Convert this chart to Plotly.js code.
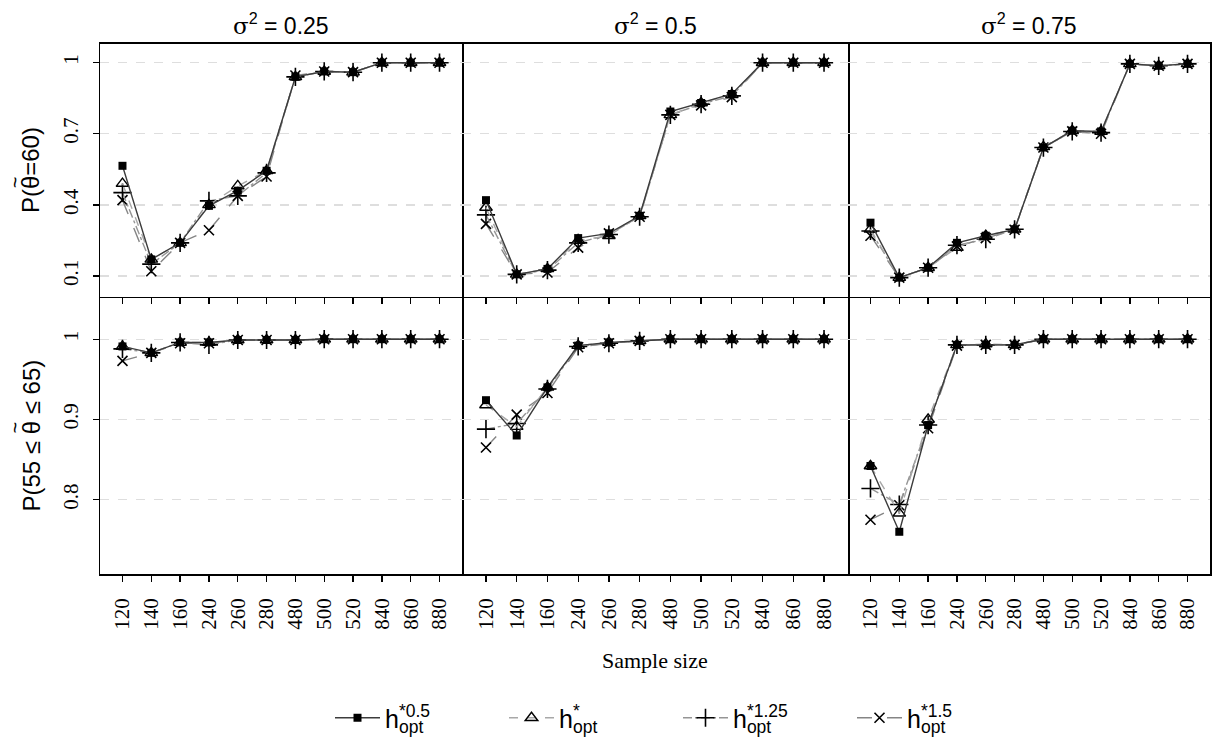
<!DOCTYPE html>
<html>
<head>
<meta charset="utf-8">
<script src="https://cdn.plot.ly/plotly-3.0.1.min.js"></script>
<style>html,body{margin:0;padding:0;background:#fff;}#chart{width:1219px;height:744px;}</style>
</head>
<body>
<div id="chart"></div>
<script>
// ---------- data ----------
const sampleSizes = ['120','140','160','240','260','280','480','500','520','840','860','880'];
const seriesSup = ['*0.5', '*', '*1.25', '*1.5'];
const seriesSub = 'opt';
const panelTitles = ['σ<sup>2</sup> = 0.25', 'σ<sup>2</sup> = 0.5', 'σ<sup>2</sup> = 0.75'];
const rowTitlesPre = ['P(', 'P(55 ≤ '];
const rowTitlesPost = ['=60)', ' ≤ 65)'];

// Top row: P(theta~ = 60)
const eq_s025_h05  = [0.565, 0.170, 0.240, 0.396, 0.460, 0.544, 0.940, 0.963, 0.960, 1.000, 1.000, 1.000];
const eq_s025_hopt = [0.490, 0.170, 0.240, 0.400, 0.480, 0.544, 0.940, 0.963, 0.960, 1.000, 1.000, 1.000];
const eq_s025_h125 = [0.452, 0.150, 0.240, 0.417, 0.438, 0.535, 0.940, 0.963, 0.960, 1.000, 1.000, 1.000];
const eq_s025_h15  = [0.420, 0.120, 0.240, 0.293, 0.438, 0.520, 0.946, 0.963, 0.960, 1.000, 1.000, 1.000];

const eq_s05_h05  = [0.420, 0.107, 0.130, 0.260, 0.280, 0.354, 0.794, 0.830, 0.868, 1.000, 1.000, 1.000];
const eq_s05_hopt = [0.389, 0.107, 0.130, 0.250, 0.270, 0.354, 0.780, 0.830, 0.865, 1.000, 1.000, 1.000];
const eq_s05_h125 = [0.358, 0.107, 0.125, 0.240, 0.275, 0.350, 0.780, 0.825, 0.860, 1.000, 1.000, 1.000];
const eq_s05_h15  = [0.320, 0.107, 0.115, 0.220, 0.280, 0.350, 0.780, 0.820, 0.855, 1.000, 1.000, 1.000];

const eq_s075_h05  = [0.325, 0.093, 0.135, 0.240, 0.270, 0.297, 0.642, 0.713, 0.710, 0.995, 0.987, 0.995];
const eq_s075_hopt = [0.297, 0.093, 0.135, 0.220, 0.270, 0.297, 0.645, 0.713, 0.710, 0.995, 0.987, 0.995];
const eq_s075_h125 = [0.290, 0.093, 0.135, 0.230, 0.255, 0.297, 0.642, 0.710, 0.705, 0.995, 0.987, 0.995];
const eq_s075_h15  = [0.270, 0.093, 0.135, 0.225, 0.260, 0.295, 0.642, 0.710, 0.700, 0.995, 0.987, 0.995];

// Bottom row: P(55 <= theta~ <= 65)
const in_s025_h05  = [0.991, 0.983, 0.996, 0.996, 0.999, 0.999, 0.999, 1.000, 1.000, 1.000, 1.000, 1.000];
const in_s025_hopt = [0.991, 0.983, 0.996, 0.996, 0.999, 0.999, 0.999, 1.000, 1.000, 1.000, 1.000, 1.000];
const in_s025_h125 = [0.988, 0.983, 0.996, 0.993, 0.999, 0.999, 0.999, 1.000, 1.000, 1.000, 1.000, 1.000];
const in_s025_h15  = [0.973, 0.983, 0.995, 0.995, 0.999, 0.999, 0.999, 1.000, 1.000, 1.000, 1.000, 1.000];

const in_s05_h05  = [0.924, 0.880, 0.940, 0.992, 0.996, 0.998, 1.000, 1.000, 1.000, 1.000, 1.000, 1.000];
const in_s05_hopt = [0.918, 0.891, 0.940, 0.992, 0.996, 0.998, 1.000, 1.000, 1.000, 1.000, 1.000, 1.000];
const in_s05_h125 = [0.888, 0.895, 0.938, 0.991, 0.995, 0.998, 1.000, 1.000, 1.000, 1.000, 1.000, 1.000];
const in_s05_h15  = [0.865, 0.906, 0.933, 0.990, 0.995, 0.998, 1.000, 1.000, 1.000, 1.000, 1.000, 1.000];

const in_s075_h05  = [0.842, 0.760, 0.893, 0.993, 0.993, 0.993, 1.000, 1.000, 1.000, 1.000, 1.000, 1.000];
const in_s075_hopt = [0.842, 0.783, 0.900, 0.993, 0.994, 0.993, 1.000, 1.000, 1.000, 1.000, 1.000, 1.000];
const in_s075_h125 = [0.814, 0.794, 0.893, 0.993, 0.993, 0.993, 1.000, 1.000, 1.000, 1.000, 1.000, 1.000];
const in_s075_h15  = [0.775, 0.793, 0.889, 0.992, 0.993, 0.993, 1.000, 1.000, 1.000, 1.000, 1.000, 1.000];

const topTickVals = [0.1, 0.4, 0.7, 1];
const topTickText = ['0.1', '0.4', '0.7', '1'];
const botTickVals = [0.8, 0.9, 1];
const botTickText = ['0.8', '0.9', '1'];

const panels = [
  [eq_s025_h05, eq_s025_hopt, eq_s025_h125, eq_s025_h15],
  [eq_s05_h05,  eq_s05_hopt,  eq_s05_h125,  eq_s05_h15],
  [eq_s075_h05, eq_s075_hopt, eq_s075_h125, eq_s075_h15],
  [in_s025_h05, in_s025_hopt, in_s025_h125, in_s025_h15],
  [in_s05_h05,  in_s05_hopt,  in_s05_h125,  in_s05_h15],
  [in_s075_h05, in_s075_hopt, in_s075_h125, in_s075_h15]
];

// ---------- styles ----------
const SERIF = 'Liberation Serif, Times New Roman, serif';
const SANS = 'Liberation Sans, Arial, sans-serif';
const GREEK = 'DejaVu Serif';
const LEG_SIZE = 25;
const ROW_SIZE = 24;
const styles = [
  {line: {color: '#3c3c3c', width: 1.4, dash: 'solid'},   marker: {symbol: 'square', size: 8, color: '#000'}},
  {line: {color: '#a8a8a8', width: 1.4, dash: 'dash'},    marker: {symbol: 'triangle-up-open', size: 11, color: '#000', line: {width: 1.4, color: '#000'}}},
  {line: {color: '#959595', width: 1.4, dash: 'dashdot'}, marker: {symbol: 'cross-thin-open', size: 13, color: '#000', line: {width: 1.6, color: '#000'}}},
  {line: {color: '#858585', width: 1.4, dash: 'longdash'},marker: {symbol: 'x-thin-open', size: 10, color: '#000', line: {width: 1.6, color: '#000'}}}
];
const drawOrder = [3, 2, 1, 0];

// legend label: superscript stacked over subscript (pull subscript back under superscript)
const charW = {'*': 0.389, '0': 0.556, '1': 0.556, '2': 0.556, '5': 0.556, '.': 0.278};
function legendName(sup) {
  const supSize = LEG_SIZE * 0.7;
  let w = 0;
  for (const ch of sup) w += (charW[ch] || 0.556) * supSize;
  const head = sup.slice(0, -1), last = sup.slice(-1);
  return 'h<sup>' + head + '<span style="letter-spacing:-' + w.toFixed(1) + 'px">' + last + '</span></sup><sub>' + seriesSub + '</sub>';
}
// theta with a tilde placed above it
function thetaTilde() {
  const thetaW = 0.556 * ROW_SIZE;      // width of θ in Liberation Sans
  const tSize = 20;
  const tildeW = 0.584 * tSize;         // width of ~ at tSize
  const off = (thetaW - tildeW) / 2;
  const ls1 = off - thetaW;
  const ls2 = thetaW - off - tildeW;
  return '<span style="letter-spacing:' + ls1.toFixed(2) + 'px">θ</span><sup><sup><span style="font-size:' + tSize +
         'px;letter-spacing:' + ls2.toFixed(2) + 'px">~</span></sup></sup>';
}

const W = 1219, H = 744;
const colPx = [[100, 462], [462, 848], [848, 1210]];
const rowPx = [[43.5, 296.7], [296.7, 574.3]];
const yRanges = [[0.0127, 1.081], [0.707, 1.053]];

const traces = [];
const layout = {
  width: W, height: H,
  margin: {l: 0, r: 0, t: 0, b: 0},
  paper_bgcolor: '#fff', plot_bgcolor: '#fff',
  font: {family: SANS, color: '#000'},
  showlegend: true,
  legend: {orientation: 'h', x: 330 / W, xanchor: 'left', y: (H - 718) / H, yanchor: 'middle',
           font: {family: SANS, size: LEG_SIZE, color: '#000'}, itemwidth: 45,
           entrywidth: 114, entrywidthmode: 'pixels', bgcolor: 'rgba(0,0,0,0)'},
  annotations: [],
  shapes: []
};

for (let p = 0; p < 6; p++) {
  const r = Math.floor(p / 3), c = p % 3;
  const n = p + 1;
  const xa = 'x' + (n === 1 ? '' : n), ya = 'y' + (n === 1 ? '' : n);
  drawOrder.forEach(s => {
    traces.push({
      type: 'scatter', mode: 'lines+markers',
      x: sampleSizes, y: panels[p][s],
      xaxis: xa, yaxis: ya,
      name: legendName(seriesSup[s]), legendgroup: 'g' + s, legendrank: s + 1,
      showlegend: p === 0,
      line: styles[s].line, marker: styles[s].marker,
      cliponaxis: false
    });
  });
  const xd = [colPx[c][0] / W, colPx[c][1] / W];
  const yd = [(H - rowPx[r][1]) / H, (H - rowPx[r][0]) / H];
  layout['xaxis' + (n === 1 ? '' : n)] = {
    type: 'category', categoryorder: 'array', categoryarray: sampleSizes,
    range: [-0.78, 11.78], domain: xd, anchor: ya,
    showline: true, mirror: r === 0, linecolor: '#000', linewidth: 1.5,
    ticks: 'outside', ticklen: 6, tickwidth: 1.3, tickcolor: '#000',
    showticklabels: r === 1, tickangle: -90,
    tickfont: {family: SERIF, size: 21, color: '#000'},
    ticklabelstandoff: 8,
    showgrid: false, zeroline: false, fixedrange: true
  };
  layout['yaxis' + (n === 1 ? '' : n)] = {
    range: yRanges[r], domain: yd, anchor: xa,
    side: c === 0 ? 'left' : 'right',
    tickmode: 'array',
    tickvals: r === 0 ? topTickVals : botTickVals,
    ticktext: r === 0 ? topTickText : botTickText,
    showline: true, mirror: c === 0, linecolor: '#000', linewidth: 1.5,
    ticks: c === 0 ? 'outside' : '', ticklen: 6, tickwidth: 1.3, tickcolor: '#000',
    showticklabels: c === 0, tickangle: -90,
    tickfont: {family: SERIF, size: 21, color: '#000'},
    ticklabelstandoff: 6,
    showgrid: true, gridcolor: '#dedede', gridwidth: 1.3, griddash: 'dash',
    zeroline: false, fixedrange: true
  };
}

// strip titles
for (let c = 0; c < 3; c++) {
  layout.annotations.push({
    text: panelTitles[c].replace('σ', '<span style="font-family:' + GREEK + '">σ</span>'),
    xref: 'paper', yref: 'paper',
    x: (colPx[c][0] + colPx[c][1]) / 2 / W, y: (H - 24) / H,
    xanchor: 'center', yanchor: 'middle', showarrow: false,
    font: {family: SANS, size: 23, color: '#000'}
  });
}
// row titles
for (let r = 0; r < 2; r++) {
  layout.annotations.push({
    text: rowTitlesPre[r] + thetaTilde() + rowTitlesPost[r],
    xref: 'paper', yref: 'paper',
    x: 24 / W, y: (H - (rowPx[r][0] + rowPx[r][1]) / 2) / H,
    xanchor: 'center', yanchor: 'middle', textangle: -90, showarrow: false,
    font: {family: SANS, size: ROW_SIZE, color: '#000'}
  });
}
// x title
layout.annotations.push({
  text: 'Sample size', xref: 'paper', yref: 'paper',
  x: 655 / W, y: (H - 660) / H, xanchor: 'center', yanchor: 'middle', showarrow: false,
  font: {family: SERIF, size: 22, color: '#000'}
});

Plotly.newPlot('chart', traces, layout, {staticPlot: true, displayModeBar: false});
</script>
</body>
</html>
